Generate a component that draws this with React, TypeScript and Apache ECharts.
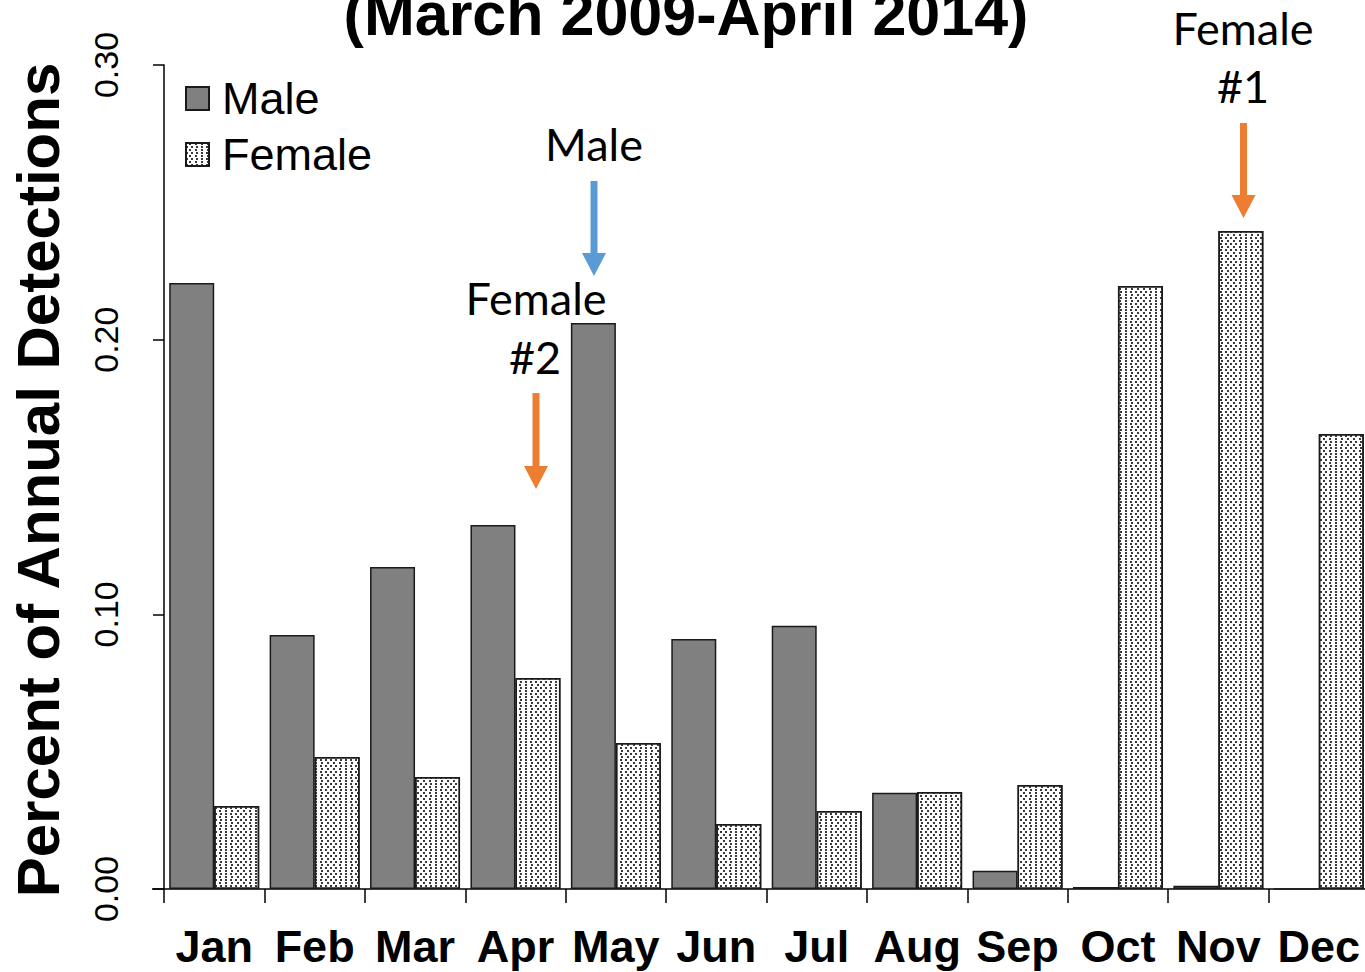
import React, { useEffect, useRef } from "react";
import * as echarts from "echarts";

const months = ["Jan", "Feb", "Mar", "Apr", "May", "Jun", "Jul", "Aug", "Sep", "Oct", "Nov", "Dec"];
const maleValues = [0.2206, 0.0925, 0.1172, 0.1325, 0.2061, 0.091, 0.0958, 0.035, 0.0066, 0.0007, 0.0012, 0];
const femaleValues = [0.0302, 0.0481, 0.0408, 0.0768, 0.0532, 0.0237, 0.0284, 0.0353, 0.0379, 0.2195, 0.2396, 0.1657];
const yMin = 0;
const yMax = 0.3;
const yStep = 0.1;
const titleText = "(March 2009-April 2014)";
const yAxisTitle = "Percent of Annual Detections";

const BLUE = "#5B9BD5";
const ORANGE = "#ED7D31";
const ANNO_FONT = "Lato, 'Open Sans', sans-serif";
const FONT = "'Liberation Sans', Arial, sans-serif";

function arrow(x: number, y0: number, y1: number, color: string) {
  const headLen = 23;
  const hs = y1 - headLen;
  return {
    type: "group",
    children: [
      { type: "rect", shape: { x: x - 3.5, y: y0, width: 7, height: hs - y0 + 1 }, style: { fill: color } },
      {
        type: "polygon",
        shape: { points: [[x - 12, hs], [x + 12, hs], [x, y1]] },
        style: { fill: color },
      },
    ],
  };
}

function annoText(text: string, x: number, y: number) {
  return {
    type: "text",
    x,
    y,
    style: {
      text,
      fill: "#000",
      font: `45px ${ANNO_FONT}`,
      align: "center",
      verticalAlign: "middle",
    },
  };
}

export default function App() {
  const ref = useRef<HTMLDivElement>(null);
  useEffect(() => {
    if (!ref.current) return;
    const chart = echarts.init(ref.current, null, { renderer: "svg" });
    const option: any = {
      animation: false,
      backgroundColor: "#fff",
      textStyle: { fontFamily: FONT },
      grid: { left: 164, right: 1, top: 65, bottom: 83, containLabel: false },
      legend: {
        left: 185,
        top: 76,
        padding: 0,
        orient: "vertical",
        itemWidth: 23,
        itemHeight: 23,
        itemGap: 11,
        icon: "rect",
        textStyle: { fontSize: 45, color: "#000", padding: [0, 0, 0, 8], lineHeight: 44, fontFamily: FONT },
        data: ["Male", "Female"],
      },
      xAxis: {
        type: "category",
        data: months,
        axisLine: { show: true, lineStyle: { color: "#000", width: 1.5 } },
        axisTick: { show: true, length: 14, lineStyle: { color: "#000", width: 1.5 } },
        axisLabel: {
          interval: 0,
          fontSize: 45,
          fontWeight: "bold",
          color: "#000",
          margin: 35,
          fontFamily: FONT,
        },
      },
      yAxis: {
        type: "value",
        min: yMin,
        max: yMax,
        interval: yStep,
        splitLine: { show: false },
        axisLine: { show: true, lineStyle: { color: "#000", width: 1.5 } },
        axisTick: { show: true, length: 11, lineStyle: { color: "#000", width: 1.5 } },
        axisLabel: {
          rotate: 90,
          fontSize: 34,
          color: "#000",
          margin: 41,
          formatter: (v: number) => v.toFixed(2),
          fontFamily: FONT,
        },
      },
      series: [
        {
          name: "Male",
          type: "bar",
          data: maleValues,
          barWidth: 45,
          barGap: "0%",
          itemStyle: { color: "#808080", borderColor: "#1a1a1a", borderWidth: 1.5 },
        },
        {
          name: "Female",
          type: "bar",
          data: femaleValues,
          barWidth: 45,
          barGap: "0%",
          itemStyle: {
            color: "#ffffff",
            borderColor: "#1a1a1a",
            borderWidth: 1.5,
            decal: {
              symbol: "rect",
              symbolSize: 1,
              color: "#3a3a3a",
              dashArrayX: [[1.4, 2.8], [0, 2.1, 1.4, 0.7]],
              dashArrayY: [1.4, 0.7],
            },
          },
        },
      ],
      graphic: [
        {
          type: "text",
          x: 686,
          y: 14,
          style: {
            text: titleText,
            fill: "#000",
            font: `bold 61px ${FONT}`,
            align: "center",
            verticalAlign: "middle",
          },
        },
        {
          type: "text",
          x: 38,
          y: 480,
          rotation: Math.PI / 2,
          style: {
            text: yAxisTitle,
            fill: "#000",
            font: `bold 60px ${FONT}`,
            align: "center",
            verticalAlign: "middle",
          },
        },
        {
          type: "line",
          shape: { x1: 152, y1: 889, x2: 164, y2: 889 },
          style: { stroke: "#000", lineWidth: 1.5 },
        },
        annoText("Male", 594, 144),
        arrow(594, 181, 276, BLUE),
        annoText("Female", 536, 298),
        annoText("#2", 535, 357),
        arrow(536, 393, 489, ORANGE),
        annoText("Female", 1243, 28),
        annoText("#1", 1243, 86),
        arrow(1243.5, 123, 218, ORANGE),
      ],
    };
    chart.setOption(option);
    return () => chart.dispose();
  }, []);
  return (
    <div style={{ position: "absolute", left: 0, top: 0, width: 1365, height: 972, overflow: "hidden" }}>
      <div ref={ref} style={{ width: 1370, height: 972 }} />
    </div>
  );
}
